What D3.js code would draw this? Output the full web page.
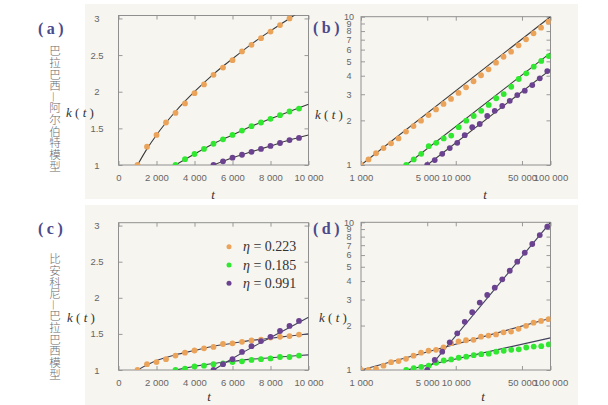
<!DOCTYPE html>
<html><head><meta charset="utf-8">
<script src="https://cdn.jsdelivr.net/npm/d3@7"></script>
<style>
html,body{margin:0;padding:0;background:#fff;}
svg{display:block;}
</style></head><body>
<svg id="chart" width="608" height="405"></svg>
<script>
// ---------------- DATA ----------------
// Panel (a): Barabási–Albert, linear axes
const aTimeOrange = [1000,1500,2000,2500,3000,3500,4000,4500,5000,5500,6000,6500,7000,7500,8000,8500,9000];
const aOrange     = [1.00,1.25,1.41,1.58,1.71,1.84,1.98,2.10,2.23,2.33,2.43,2.55,2.64,2.73,2.82,2.91,3.00];
const aTimeGreen  = [3000,3500,4000,4500,5000,5500,6000,6500,7000,7500,8000,8500,9000,9500];
const aGreen      = [1.00,1.08,1.15,1.22,1.29,1.35,1.41,1.47,1.53,1.58,1.63,1.68,1.73,1.77];
const aTimePurple = [5000,5500,6000,6500,7000,7500,8000,8500,9000,9500];
const aPurple     = [1.00,1.05,1.10,1.14,1.18,1.22,1.26,1.30,1.34,1.37];
const aLineTimeOrange = [1000,1500,2000,3000,4000,5000,6000,7000,8000,9000,9300];
const aLineOrange     = [1.00,1.22,1.41,1.73,2.00,2.24,2.45,2.65,2.83,3.00,3.05];
const aLineTimeGreen  = [3000,4000,5000,6000,7000,8000,9000,10000];
const aLineGreen      = [1.00,1.15,1.29,1.41,1.53,1.63,1.73,1.83];
const aLineTimePurple = [5000,6000,7000,8000,9000,10000];
const aLinePurple     = [1.00,1.10,1.18,1.26,1.34,1.41];

// Panel (b): Barabási–Albert, log-log axes
const bTimeOrange = [1000,1200,1440,1728,2074,2488,2986,3583,4300,5160,6192,7430,8916,10699,12839,15407,18488,22186,26623,31948,38338,46005,55206,66247,79497,95396];
const bOrange     = [1.00,1.09,1.20,1.30,1.40,1.51,1.68,1.83,1.99,2.17,2.37,2.58,2.79,3.06,3.34,3.67,4.03,4.42,4.90,5.37,5.81,6.41,7.04,7.73,8.43,9.25];
const bTimeGreen  = [3000,3600,4320,5184,6221,7465,8958,10750,12899,15479,18575,22290,26748,32098,38517,46221,55465,66558,79870,95844];
const bGreen      = [1.00,1.09,1.19,1.34,1.41,1.51,1.58,1.80,1.99,2.14,2.32,2.54,2.82,3.01,3.37,3.80,4.15,4.60,5.03,5.43];
const bTimePurple = [5000,6000,7200,8640,10368,12442,14930,17916,21499,25799,30959,37150,44580,53496,64196,77035,92442];
const bPurple     = [1.00,1.08,1.19,1.30,1.41,1.59,1.80,1.89,2.14,2.32,2.50,2.71,2.96,3.17,3.46,3.84,4.30];
const bLineTimeOrange = [1000,100000];
const bLineOrange     = [1.00,10.0];
const bLineTimeGreen  = [3000,100000];
const bLineGreen      = [1.00,5.70];
const bLineTimePurple = [5000,100000];
const bLinePurple     = [1.00,4.40];

// Panel (c): Bianconi–Barabási, linear axes
const cTimeOrange = [1000,1500,2000,2500,3000,3500,4000,4500,5000,5500,6000,6500,7000,7500,8000,8500,9000,9500];
const cOrange     = [1.00,1.08,1.11,1.15,1.20,1.24,1.27,1.30,1.32,1.36,1.37,1.39,1.41,1.42,1.45,1.46,1.47,1.49];
const cTimeGreen  = [3000,3500,4000,4500,5000,5500,6000,6500,7000,7500,8000,8500,9000,9500];
const cGreen      = [1.00,1.02,1.05,1.06,1.08,1.09,1.11,1.12,1.14,1.15,1.16,1.18,1.18,1.20];
const cTimePurple = [5000,5500,6000,6500,7000,7500,8000,8500,9000,9500];
const cPurple     = [1.00,1.08,1.15,1.25,1.33,1.40,1.46,1.54,1.61,1.68];
const cLineTimeOrange = [1000,1500,2000,3000,4000,5000,6000,7000,8000,9000,10000];
const cLineOrange     = [1.00,1.07,1.13,1.21,1.27,1.33,1.37,1.41,1.44,1.47,1.50];
const cLineTimeGreen  = [3000,4000,5000,6000,7000,8000,9000,10000];
const cLineGreen      = [1.00,1.05,1.09,1.12,1.15,1.17,1.19,1.21];
const cLineTimePurple = [5000,6000,7000,8000,9000,10000];
const cLinePurple     = [1.00,1.16,1.31,1.45,1.59,1.73];

// Panel (d): Bianconi–Barabási, log-log axes
const dTimeOrange = bTimeOrange;
const dOrange     = [1.00,1.00,1.02,1.07,1.13,1.15,1.19,1.25,1.31,1.35,1.37,1.42,1.52,1.56,1.59,1.60,1.68,1.71,1.74,1.80,1.82,1.90,1.99,2.09,2.15,2.21];
const dTimeGreen  = bTimeGreen;
const dGreen      = [1.00,1.03,1.05,1.07,1.12,1.16,1.18,1.21,1.23,1.26,1.28,1.29,1.33,1.35,1.37,1.38,1.42,1.44,1.45,1.49];
const dTimePurple = bTimePurple;
const dPurple     = [1.00,1.17,1.33,1.54,1.77,2.12,2.46,2.86,3.22,3.61,4.11,4.70,5.41,6.22,7.13,8.20,9.34];
const dLineTimeOrange = [1000,100000];
const dLineOrange     = [1.00,2.24];
const dLineTimeGreen  = [3000,100000];
const dLineGreen      = [1.00,1.65];
const dLineTimePurple = [5000,100000];
const dLinePurple     = [1.00,10.0];

// Ticks & labels
const linXTicks = [0,2000,4000,6000,8000,10000];
const linYTicks = [1,1.5,2,2.5,3];
const logXTicks = [1000,5000,10000,50000,100000];
const logYTicks = [1,2,3,4,5,6,7,8,9,10];
const legendLabels = ["0.223","0.185","0.991"];
const panelLetters = ["(a)","(b)","(c)","(d)"];
const modelTitles = ["巴拉巴西—阿尔伯特模型","比安科尼—巴拉巴西模型"];

// ---------------- DRAW ----------------
const COLORS = {orange:"#eba35a", green:"#2fe82f", purple:"#6b4290"};
const svg = d3.select("#chart");
const fmt = d3.formatLocale({decimal:".", thousands:" ", grouping:[3], currency:["",""]}).format(",");

// panel backgrounds
svg.append("rect").attr("x",85).attr("y",4).attr("width",493).attr("height",195).attr("fill","#f6f5f0");
svg.append("rect").attr("x",85).attr("y",205).attr("width",493).attr("height",200).attr("fill","#f6f5f0");

function zip(t,k){ return t.map((v,i)=>[v,k[i]]); }

function drawPanel(cfg, idx){
  const g = svg.append("g");
  const x = cfg.log
    ? d3.scaleLog().domain([1000,100000]).range([cfg.x0,cfg.x1])
    : d3.scaleLinear().domain([0,10000]).range([cfg.x0,cfg.x1]);
  const y = cfg.log
    ? d3.scaleLog().domain([1,10]).range([cfg.y1,cfg.y0])
    : d3.scaleLinear().domain([1,3.04]).range([cfg.y1,cfg.y0]);
  const xt = cfg.log ? logXTicks : linXTicks;
  const yt = cfg.log ? logYTicks : linYTicks;

  const clipId = "clip"+idx;
  svg.append("clipPath").attr("id",clipId).append("rect")
    .attr("x",cfg.x0).attr("y",cfg.y0).attr("width",cfg.x1-cfg.x0).attr("height",cfg.y1-cfg.y0);

  const styleAxis = sel => {
    sel.select(".domain").remove();
    sel.selectAll(".tick line").attr("stroke","#9a9a9a");
    sel.selectAll("text").attr("fill","#666").style("font-family","Liberation Sans, Arial, sans-serif").style("font-size","9.5px");
  };
  g.append("g").attr("transform",`translate(0,${cfg.y1})`)
    .call(d3.axisBottom(x).tickValues(xt).tickFormat(v=>fmt(v)).tickSizeInner(-4).tickSizeOuter(0).tickPadding(9))
    .call(styleAxis);
  g.append("g").attr("transform",`translate(0,${cfg.y0})`)
    .call(d3.axisTop(x).tickValues(xt).tickFormat("").tickSizeInner(-4).tickSizeOuter(0))
    .call(styleAxis);
  const yl = g.append("g").attr("transform",`translate(${cfg.x0},0)`)
    .call(d3.axisLeft(y).tickValues(yt).tickFormat(v=>String(v)).tickSizeInner(-4).tickSizeOuter(0))
    .call(styleAxis);
  yl.selectAll("text").attr("x",-cfg.ylabOff).attr("text-anchor","middle");
  if (cfg.log) yl.selectAll("text").style("font-size","9px");
  g.append("g").attr("transform",`translate(${cfg.x1},0)`)
    .call(d3.axisRight(y).tickValues(yt).tickFormat("").tickSizeInner(-4).tickSizeOuter(0))
    .call(styleAxis);

  g.append("rect").attr("x",cfg.x0).attr("y",cfg.y0).attr("width",cfg.x1-cfg.x0).attr("height",cfg.y1-cfg.y0)
    .attr("fill","none").attr("stroke","#8f8f8f").attr("stroke-width",1);

  const line = d3.line().x(d=>x(d[0])).y(d=>y(d[1])).curve(cfg.log ? d3.curveLinear : d3.curveMonotoneX);
  const lg = g.append("g").attr("clip-path",`url(#${clipId})`);
  cfg.series.forEach(s=>{
    lg.append("path").datum(zip(s.lt,s.lk)).attr("d",line)
      .attr("fill","none").attr("stroke",cfg.lineColor).attr("stroke-width",1.1);
  });
  cfg.series.forEach(s=>{
    lg.append("g").selectAll("circle").data(zip(s.t,s.k)).join("circle")
      .attr("cx",d=>x(d[0])).attr("cy",d=>y(d[1])).attr("r",2.9).attr("fill",s.color);
  });

  svg.append("text").attr("x",cfg.letter[0]).attr("y",cfg.letter[1])
    .attr("fill","#4b4a8c").style("font-family","Liberation Serif, serif").style("font-weight","bold")
    .style("font-size","16px").style("letter-spacing","3.5px").text(panelLetters[idx]);

  const kt = svg.append("text").attr("x",cfg.klab[0]).attr("y",cfg.klab[1]).attr("fill","#333")
    .style("font-family","Liberation Serif, serif").style("font-size","13px");
  kt.append("tspan").style("font-style","italic").text("k");
  kt.append("tspan").text(" ( ");
  kt.append("tspan").style("font-style","italic").text("t");
  kt.append("tspan").text(" )");

  svg.append("text").attr("x",cfg.tlab[0]).attr("y",cfg.tlab[1]).attr("fill","#333")
    .attr("text-anchor","middle")
    .style("font-family","Liberation Serif, serif").style("font-style","italic").style("font-size","13px").text("t");
  return {x,y};
}

const panels = [
  {log:false, x0:118.5, x1:308.5, y0:15.5, y1:165, ylabOff:21.5, lineColor:"#3a3a3a",
   letter:[38,33.5], klab:[66,117], tlab:[213,199],
   series:[
    {color:COLORS.orange, t:aTimeOrange, k:aOrange, lt:aLineTimeOrange, lk:aLineOrange},
    {color:COLORS.green,  t:aTimeGreen,  k:aGreen,  lt:aLineTimeGreen,  lk:aLineGreen},
    {color:COLORS.purple, t:aTimePurple, k:aPurple, lt:aLineTimePurple, lk:aLinePurple}]},
  {log:true, x0:361, x1:550.5, y0:16.7, y1:165, ylabOff:12, lineColor:"#3a3a3a",
   letter:[313,32.5], klab:[315,119], tlab:[485,199],
   series:[
    {color:COLORS.orange, t:bTimeOrange, k:bOrange, lt:bLineTimeOrange, lk:bLineOrange},
    {color:COLORS.green,  t:bTimeGreen,  k:bGreen,  lt:bLineTimeGreen,  lk:bLineGreen},
    {color:COLORS.purple, t:bTimePurple, k:bPurple, lt:bLineTimePurple, lk:bLinePurple}]},
  {log:false, x0:118.5, x1:308.5, y0:222.7, y1:370, ylabOff:21.5, lineColor:"#40405a",
   letter:[38,233.5], klab:[67,322], tlab:[209,401],
   series:[
    {color:COLORS.orange, t:cTimeOrange, k:cOrange, lt:cLineTimeOrange, lk:cLineOrange},
    {color:COLORS.green,  t:cTimeGreen,  k:cGreen,  lt:cLineTimeGreen,  lk:cLineGreen},
    {color:COLORS.purple, t:cTimePurple, k:cPurple, lt:cLineTimePurple, lk:cLinePurple}]},
  {log:true, x0:361, x1:550.5, y0:222.3, y1:370, ylabOff:12, lineColor:"#40405a",
   letter:[313,234], klab:[319,322], tlab:[483,401],
   series:[
    {color:COLORS.orange, t:dTimeOrange, k:dOrange, lt:dLineTimeOrange, lk:dLineOrange},
    {color:COLORS.green,  t:dTimeGreen,  k:dGreen,  lt:dLineTimeGreen,  lk:dLineGreen},
    {color:COLORS.purple, t:dTimePurple, k:dPurple, lt:dLineTimePurple, lk:dLinePurple}]}
];
panels.forEach((p,i)=>drawPanel(p,i));

// legend in panel (c)
const legColors = [COLORS.orange, COLORS.green, COLORS.purple];
const leg = svg.append("g");
legendLabels.forEach((lab,i)=>{
  const yy = 246.7 + i*18.3;
  leg.append("circle").attr("cx",229).attr("cy",yy).attr("r",2.5).attr("fill",legColors[i]);
  const tx = leg.append("text").attr("x",243).attr("y",yy+4.5).attr("fill","#333")
    .style("font-family","Liberation Serif, serif").style("font-size","14px");
  tx.append("tspan").style("font-style","italic").text("η");
  tx.append("tspan").text(" = "+lab);
});

// vertical model titles
[[55,45],[55,253]].forEach((pos,i)=>{
  svg.append("text").attr("x",pos[0]).attr("y",pos[1])
    .style("writing-mode","vertical-rl")
    .attr("fill","#6a6a6a")
    .style("font-family","Noto Sans CJK SC, sans-serif").style("font-weight","300")
    .style("font-size","11.5px").style("letter-spacing","0.2px")
    .text(modelTitles[i]);
});
</script></body></html>
